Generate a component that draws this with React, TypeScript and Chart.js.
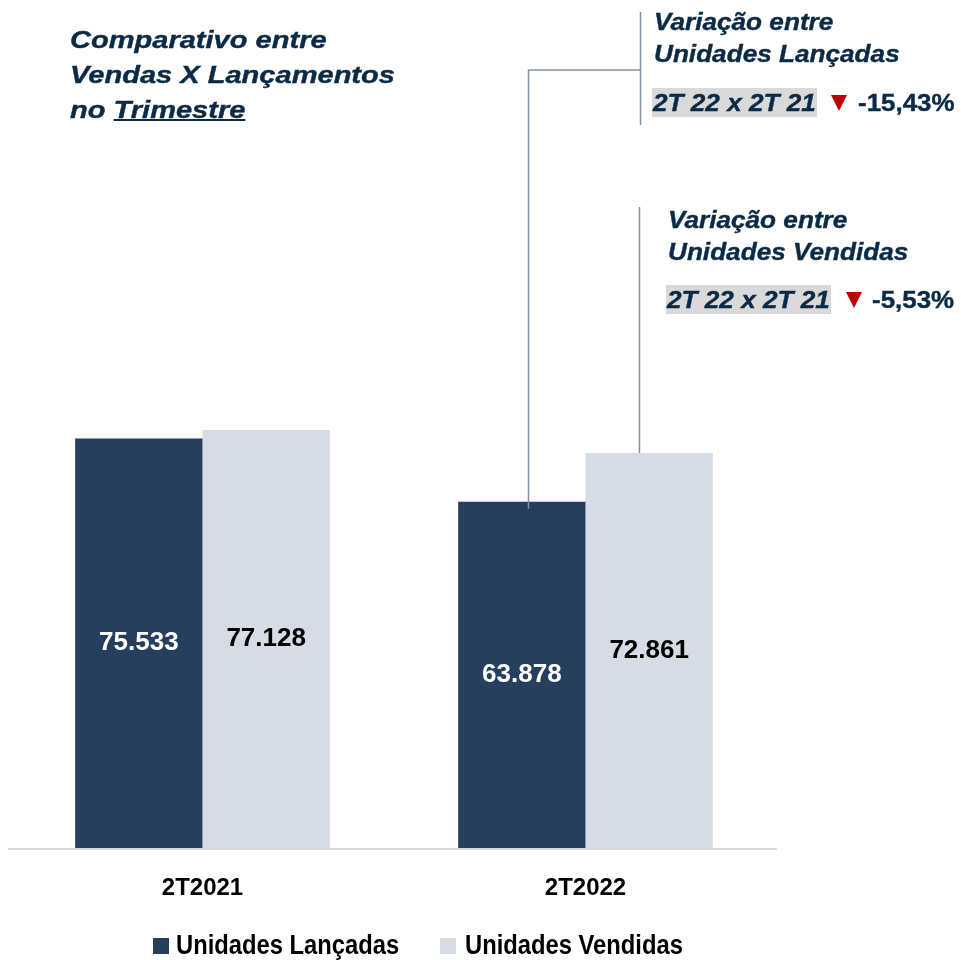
import React, { useEffect, useRef } from "react";
import { Chart, registerables } from "chart.js";

Chart.register(...registerables);

const categories = ["2T2021", "2T2022"];
const lancadas = [75533, 63878];
const vendidas = [77128, 72861];
const seriesNames = ["Unidades Lançadas", "Unidades Vendidas"];
const seriesColors = ["#273f5f", "#d6dce5"];
const valueColors = ["#ffffff", "#000000"];
const yMax = 150000;
const titleLines = ["Comparativo entre", "Vendas X Lançamentos"];
const periodLabel = "2T 22 x 2T 21";

const NAVY = "#0b2a45";
const LINE = "#8391a8";
const FONT = "'Liberation Sans', Arial, sans-serif";

function fmtInt(v: number): string {
  const s = Math.round(v).toString();
  return s.replace(/\B(?=(\d{3})+(?!\d))/g, ".");
}
function fmtPct(a: number, b: number): string {
  const p = ((b - a) / a) * 100;
  return p.toFixed(2).replace(".", ",") + "%";
}

const overlayPlugin = {
  id: "overlay",
  afterDatasetsDraw(chart: any) {
    const ctx = chart.ctx;
    ctx.save();
    chart.data.datasets.forEach((ds: any, di: number) => {
      const meta = chart.getDatasetMeta(di);
      meta.data.forEach((bar: any, i: number) => {
        const v = ds.data[i];
        const cy = (bar.y + bar.base) / 2;
        ctx.font = "bold 26px " + FONT;
        ctx.fillStyle = valueColors[di];
        ctx.textAlign = "center";
        ctx.textBaseline = "middle";
        ctx.fillText(fmtInt(v), bar.x, cy);
      });
    });
    const area = chart.chartArea;
    ctx.strokeStyle = "#d9d9d9";
    ctx.lineWidth = 2;
    ctx.beginPath();
    ctx.moveTo(8, area.bottom + 1);
    ctx.lineTo(area.right, area.bottom + 1);
    ctx.stroke();
    const b3 = chart.getDatasetMeta(0).data[1];
    const b4 = chart.getDatasetMeta(1).data[1];
    ctx.strokeStyle = LINE;
    ctx.lineWidth = 1.5;
    ctx.beginPath();
    const x1 = Math.round(b3.x + 6) + 0.5;
    ctx.moveTo(x1, b3.y + 7);
    ctx.lineTo(x1, 70);
    ctx.lineTo(640.5, 70);
    ctx.moveTo(640.5, 12);
    ctx.lineTo(640.5, 125);
    const x2 = Math.round(b4.x - 10) + 0.5;
    ctx.moveTo(x2, b4.y);
    ctx.lineTo(x2, 207);
    ctx.stroke();
    ctx.restore();
  },
};

const annFont: React.CSSProperties = {
  position: "absolute",
  fontFamily: FONT,
  fontWeight: "bold",
  fontStyle: "italic",
  fontSize: 24,
  color: NAVY,
  whiteSpace: "nowrap",
  WebkitTextStroke: "0.4px " + NAVY,
};

const stretch = (k: number): React.CSSProperties => ({
  display: "inline-block",
  transform: `scaleX(${k})`,
  transformOrigin: "left center",
});

function Annotation(props: {
  left: number;
  top: number;
  l1: string;
  l2: string;
  rowTop: number;
  boxLeft: number;
  triLeft: number;
  pctLeft: number;
  pct: string;
}) {
  const { left, top, l1, l2, rowTop, boxLeft, triLeft, pctLeft, pct } = props;
  return (
    <>
      <div style={{ ...annFont, left, top, lineHeight: "32px" }}>
        <span style={stretch(1.09)}>{l1}</span>
        <br />
        <span style={stretch(1.09)}>{l2}</span>
      </div>
      <div
        style={{
          ...annFont,
          left: boxLeft,
          top: rowTop,
          width: 165,
          height: 29,
          lineHeight: "29px",
          background: "#d9d9d9",
          paddingLeft: 1,
          boxSizing: "border-box",
        }}
      >
        <span style={stretch(1.09)}>{periodLabel}</span>
      </div>
      <div
        style={{
          position: "absolute",
          left: triLeft,
          top: rowTop + 7,
          width: 0,
          height: 0,
          borderLeft: "8.5px solid transparent",
          borderRight: "8.5px solid transparent",
          borderTop: "16px solid #c00000",
        }}
      />
      <div
        style={{
          ...annFont,
          fontStyle: "normal",
          left: pctLeft,
          top: rowTop,
          lineHeight: "29px",
        }}
      >
        <span style={stretch(1.08)}>{pct}</span>
      </div>
    </>
  );
}

export default function App() {
  const ref = useRef<HTMLCanvasElement | null>(null);
  useEffect(() => {
    if (!ref.current) return;
    const chart = new Chart(ref.current, {
      type: "bar",
      data: {
        labels: categories,
        datasets: [
          {
            label: seriesNames[0],
            data: lancadas,
            backgroundColor: seriesColors[0],
            barPercentage: 1,
            categoryPercentage: 0.665,
          },
          {
            label: seriesNames[1],
            data: vendidas,
            backgroundColor: seriesColors[1],
            barPercentage: 1,
            categoryPercentage: 0.665,
          },
        ],
      },
      options: {
        responsive: false,
        animation: false,
        layout: { padding: { left: 11, right: 184, top: 35, bottom: 52 } },
        plugins: {
          legend: { display: false },
          tooltip: { enabled: false },
        },
        scales: {
          y: {
            display: false,
            min: 0,
            max: yMax,
          },
          x: {
            grid: { display: false, drawTicks: false },
            border: { display: false },
            ticks: {
              color: "#000000",
              padding: 26,
              font: { family: FONT, size: 24, weight: "bold" },
            },
            afterFit: (s: any) => {
              s.height = 60;
            },
          },
        },
      },
      plugins: [overlayPlugin],
    } as any);
    return () => chart.destroy();
  }, []);

  const legendText: React.CSSProperties = {
    position: "absolute",
    fontFamily: FONT,
    fontWeight: "bold",
    fontSize: 27,
    lineHeight: "30px",
    color: "#000",
    whiteSpace: "nowrap",
    transform: "scaleX(0.88)",
    transformOrigin: "left center",
  };

  return (
    <div style={{ position: "absolute", left: 0, top: 0, width: 961, height: 960, background: "#fff" }}>
      <canvas ref={ref} width={961} height={960} style={{ position: "absolute", left: 0, top: 0 }} />
      <div
        style={{
          position: "absolute",
          left: 70,
          top: 22,
          fontFamily: FONT,
          fontWeight: "bold",
          fontStyle: "italic",
          fontSize: 24,
          lineHeight: "35px",
          color: NAVY,
          whiteSpace: "nowrap",
          WebkitTextStroke: "0.4px " + NAVY,
        }}
      >
        <span style={stretch(1.21)}>{titleLines[0]}</span>
        <br />
        <span style={stretch(1.21)}>{titleLines[1]}</span>
        <br />
        <span style={stretch(1.21)}>
          no <span style={{ textDecoration: "underline", textDecorationThickness: "2px" }}>Trimestre</span>
        </span>
      </div>
      <Annotation
        left={654}
        top={6}
        l1="Variação entre"
        l2={seriesNames[0]}
        rowTop={88}
        boxLeft={652}
        triLeft={831}
        pctLeft={858}
        pct={fmtPct(lancadas[0], lancadas[1])}
      />
      <Annotation
        left={668}
        top={204}
        l1="Variação entre"
        l2={seriesNames[1]}
        rowTop={285}
        boxLeft={666}
        triLeft={846}
        pctLeft={872}
        pct={fmtPct(vendidas[0], vendidas[1])}
      />
      <div style={{ position: "absolute", left: 153, top: 938, width: 16, height: 16, background: seriesColors[0] }} />
      <div style={{ ...legendText, left: 176, top: 930 }}>{seriesNames[0]}</div>
      <div style={{ position: "absolute", left: 440, top: 938, width: 16, height: 16, background: seriesColors[1] }} />
      <div style={{ ...legendText, left: 465, top: 930 }}>{seriesNames[1]}</div>
    </div>
  );
}
